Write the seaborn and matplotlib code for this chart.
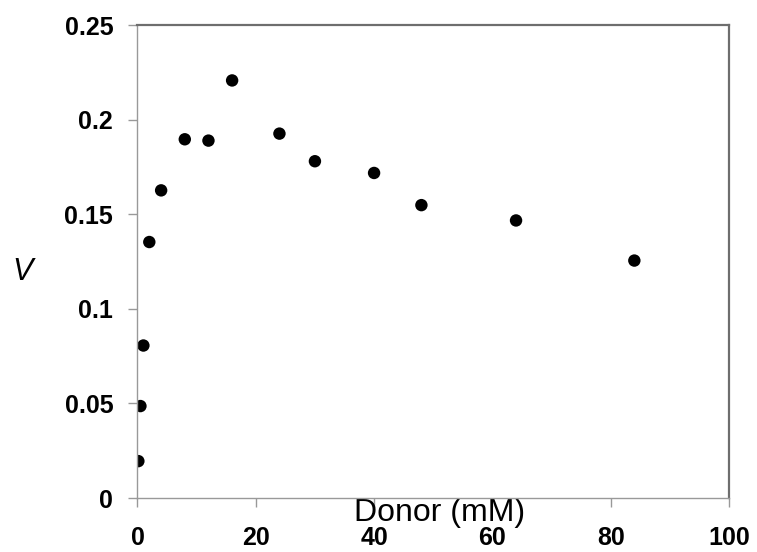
import matplotlib
matplotlib.use('Agg')
import matplotlib.pyplot as plt
import seaborn as sns
import pandas as pd

# datos
donor = [0.15, 0.5, 1, 2, 4, 8, 12, 16, 24, 30, 40, 48, 64, 84]
v = [0.0195, 0.0486, 0.0806, 0.1353, 0.1626, 0.1896, 0.1889, 0.2207,
     0.1926, 0.178, 0.1718, 0.1548, 0.1467, 0.1255]
x_ticks = [0, 20, 40, 60, 80, 100]
y_ticks = [0, 0.05, 0.1, 0.15, 0.2, 0.25]
y_tick_labels = ['0', '0.05', '0.1', '0.15', '0.2', '0.25']

df = pd.DataFrame({'Donor': donor, 'V': v})

sns.set_style('white')
plt.rcParams['font.family'] = ['Liberation Sans', 'DejaVu Sans']
plt.rcParams['text.color'] = 'black'
plt.rcParams['xtick.labelcolor'] = 'black'
plt.rcParams['ytick.labelcolor'] = 'black'
plt.rcParams['axes.labelcolor'] = 'black'

fig = plt.figure(figsize=(7.57, 5.52), dpi=100)
ax = fig.add_axes([0.1816, 0.0978, 0.7814, 0.8569])

sns.scatterplot(data=df, x='Donor', y='V', ax=ax, color='black', s=80,
                edgecolor='none', linewidth=0, legend=False)

ax.set_xlim(0, 100)
ax.set_ylim(0, 0.25)
ax.set_xticks(x_ticks)
ax.set_xticklabels([str(t) for t in x_ticks], fontweight='bold', fontsize=18)
ax.set_yticks(y_ticks)
ax.set_yticklabels(y_tick_labels, fontweight='bold', fontsize=18)

ax.tick_params(axis='x', direction='out', length=6.5, width=1, color='#999999',
               labelcolor='black', pad=14, bottom=True)
ax.tick_params(axis='y', direction='out', length=6.5, width=1, color='#999999',
               labelcolor='black', pad=11, left=True)

for side in ['left', 'bottom']:
    ax.spines[side].set_color('#999999')
    ax.spines[side].set_linewidth(1.0)
for side in ['top', 'right']:
    ax.spines[side].set_color('#6e6e6e')
    ax.spines[side].set_linewidth(1.6)

ax.set_xlabel('Donor (mM)', fontsize=23, va='top', color='black')
ax.xaxis.set_label_coords(0.51, 0.0)
ax.set_ylabel('V', fontsize=22, style='italic', rotation=0, va='center',
              ha='center', color='black')
ax.yaxis.set_label_coords(-0.195, 0.478)

fig.savefig('out.png', dpi=100)
